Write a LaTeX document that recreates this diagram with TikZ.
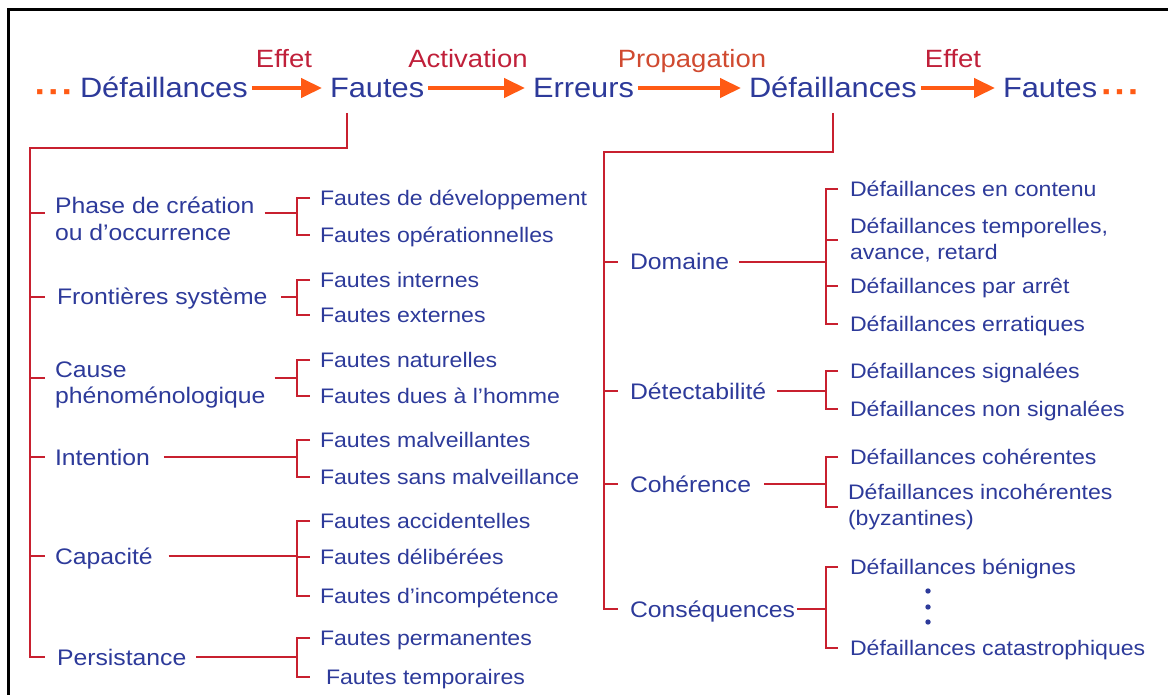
\documentclass[tikz,border=0pt]{standalone}
\usepackage{fontspec}
\setmainfont{Liberation Sans}[FakeStretch=1.1]
\usetikzlibrary{arrows.meta,calc}
\definecolor{txtblue}{HTML}{2D3A9A}
\definecolor{brred}{HTML}{C8202F}
\definecolor{lblred}{HTML}{C0203A}
\definecolor{lblorange}{HTML}{D04A30}
\definecolor{arrorange}{HTML}{FF5A14}
\begin{document}
\begin{tikzpicture}[x=1pt,y=-1pt,
  every node/.style={inner sep=0pt,outer sep=0pt},
  top/.style={anchor=west,text=txtblue,font=\fontsize{28}{32}\selectfont,text height=20pt,text depth=0pt},
  lbl/.style={anchor=base,font=\fontsize{25}{28}\selectfont},
  dotrow/.style={text=arrorange,font=\bfseries\fontsize{34}{36}\selectfont,text height=20pt,text depth=0pt},
  cat/.style={anchor=west,text=txtblue,font=\fontsize{22.5}{26}\selectfont,text height=16pt,text depth=0pt},
  cattwo/.style={anchor=west,text=txtblue,align=left,font=\fontsize{22.5}{26.5}\selectfont},
  leaf/.style={anchor=west,text=txtblue,font=\fontsize{21}{25}\selectfont,text height=15pt,text depth=0pt},
  leaftwo/.style={anchor=west,text=txtblue,align=left,font=\fontsize{21}{25.5}\selectfont},
  br/.style={draw=brred,line width=1.9pt},
  arr/.style={draw=arrorange,line width=4.2pt,-{Triangle[length=21pt,width=19pt]},shorten <=4pt,shorten >=8pt},
]
\useasboundingbox (0,0) rectangle (1168,695);

% frame
\draw[line width=3pt] (1180,10) -- (8,10) -- (8,705);

% chain of threats
\node[dotrow,anchor=east] (dl) at (74,94) {·\kern1pt·\kern1pt·};
\node[top] (d0) at (80,88) {Défaillances};
\node[top] (f1) at (330,88) {Fautes};
\node[top] (er) at (533,88) {Erreurs};
\node[top] (d2) at (749,88) {Défaillances};
\node[top] (f2) at (1003,88) {Fautes};
\node[dotrow,anchor=west] (dr) at (1101,94) {·\kern1pt·\kern1pt·};

\draw[arr] (d0.east) -- (f1.west);
\draw[arr] (f1.east) -- (er.west);
\draw[arr] (er.east) -- (d2.west);
\draw[arr] (d2.east) -- (f2.west);

\node[lbl,text=lblred] (l1) at (284,68) {Effet};
\node[lbl,text=lblred] (l2) at (468,68) {Activation};
\node[lbl,text=lblorange] (l3) at (692,68) {Propagation};
\node[lbl,text=lblred] (l4) at (953,68) {Effet};

% ---------- fault classes ----------
\coordinate (tl) at (30,148);
\coordinate (bl) at (297,0);
\coordinate (jphase) at (0,213);
\coordinate (jcause) at (0,378);

\node[cattwo] (phase) at (55,219) {Phase de création\\ou d’occurrence};
\node[cat] (front) at (57,297) {Frontières système};
\node[cattwo] (cause) at (55,385) {Cause\\phénoménologique};
\node[cat] (intent) at (55,457) {Intention};
\node[cat] (capac) at (55,556) {Capacité};
\node[cat] (persist) at (57,657) {Persistance};

\node[leaf] (fdev) at (320,198) {Fautes de développement};
\node[leaf] (fop) at (320,235) {Fautes opérationnelles};
\node[leaf] (fint) at (320,280) {Fautes internes};
\node[leaf] (fext) at (320,315) {Fautes externes};
\node[leaf] (fnat) at (320,360) {Fautes naturelles};
\node[leaf] (fhom) at (320,396) {Fautes dues à l’homme};
\node[leaf] (fmal) at (320,440) {Fautes malveillantes};
\node[leaf] (fsans) at (320,477) {Fautes sans malveillance};
\node[leaf] (facc) at (320,521) {Fautes accidentelles};
\node[leaf] (fdel) at (320,557) {Fautes délibérées};
\node[leaf] (finc) at (320,596) {Fautes d’incompétence};
\node[leaf] (fperm) at (320,638) {Fautes permanentes};
\node[leaf] (ftemp) at (326,677) {Fautes temporaires};

% trunk
\draw[br] ([xshift=17pt,yshift=-15pt]f1.south west) |- (tl) -- (tl |- persist.west) -- ([xshift=-12pt]persist.west);
\draw[br] (tl |- jphase) -- ++(15,0);
\draw[br] (tl |- front.west) -- ++(15,0);
\draw[br] (tl |- jcause) -- ++(15,0);
\draw[br] (tl |- intent.west) -- ++(15,0);
\draw[br] (tl |- capac.west) -- ++(15,0);

% category to bracket
\draw[br] ($(phase.east |- jphase)+(10,0)$) -- (bl |- jphase);
\draw[br] ([xshift=14pt]front.east) -- (bl |- front.west);
\draw[br] ($(cause.east |- jcause)+(9,0)$) -- (bl |- jcause);
\draw[br] ([xshift=14pt]intent.east) -- (bl |- intent.west);
\draw[br] ([xshift=16pt]capac.east) -- (bl |- capac.west);
\draw[br] ([xshift=10pt]persist.east) -- (bl |- persist.west);

% brackets
\draw[br] ($(bl |- fdev.west)+(13,0)$) -- (bl |- fdev.west) -- (bl |- fop.west) -- ++(13,0);
\draw[br] ($(bl |- fint.west)+(13,0)$) -- (bl |- fint.west) -- (bl |- fext.west) -- ++(13,0);
\draw[br] ($(bl |- fnat.west)+(13,0)$) -- (bl |- fnat.west) -- (bl |- fhom.west) -- ++(13,0);
\draw[br] ($(bl |- fmal.west)+(13,0)$) -- (bl |- fmal.west) -- (bl |- fsans.west) -- ++(13,0);
\draw[br] ($(bl |- facc.west)+(13,0)$) -- (bl |- facc.west) -- (bl |- finc.west) -- ++(13,0);
\draw[br] (bl |- fdel.west) -- ++(13,0);
\draw[br] ($(bl |- fperm.west)+(13,0)$) -- (bl |- fperm.west) -- (bl |- ftemp.west) -- ++(13,0);

% ---------- failure classes ----------
\coordinate (tr) at (604,152);
\coordinate (brr) at (826,0);

\node[cat] (dom) at (630,262) {Domaine};
\node[cat] (det) at (630,391) {Détectabilité};
\node[cat] (coh) at (630,484) {Cohérence};
\node[cat] (cons) at (630,609) {Conséquences};

\node[leaf] (dcont) at (850,189) {Défaillances en contenu};
\node[leaftwo] (dtemp) at (850,240) {Défaillances temporelles,\\avance, retard};
\node[leaf] (darr) at (850,286) {Défaillances par arrêt};
\node[leaf] (derr) at (850,324) {Défaillances erratiques};
\node[leaf] (dsig) at (850,371) {Défaillances signalées};
\node[leaf] (dnsig) at (850,409) {Défaillances non signalées};
\node[leaf] (dcoh) at (850,457) {Défaillances cohérentes};
\node[leaftwo] (dinc) at (848,507) {Défaillances incohérentes\\(byzantines)};
\node[leaf] (dben) at (850,567) {Défaillances bénignes};
\node[leaf] (dcat) at (850,648) {Défaillances catastrophiques};

% vertical ellipsis between benign and catastrophic
\fill[txtblue] (928,591) circle[radius=2.7pt];
\fill[txtblue] (928,607) circle[radius=2.7pt];
\fill[txtblue] (928,622) circle[radius=2.7pt];

% trunk
\draw[br] ([yshift=-15pt]d2.south) |- (tr) -- (tr |- cons.west) -- ([xshift=-12pt]cons.west);
\draw[br] (tr |- dom.west) -- ++(14,0);
\draw[br] (tr |- det.west) -- ++(14,0);
\draw[br] (tr |- coh.west) -- ++(14,0);

% category to bracket
\draw[br] ([xshift=10pt]dom.east) -- (brr |- dom.west);
\draw[br] ([xshift=11pt]det.east) -- (brr |- det.west);
\draw[br] ([xshift=13pt]coh.east) -- (brr |- coh.west);
\draw[br] ([xshift=2pt]cons.east) -- (brr |- cons.west);

% brackets
\draw[br] ($(brr |- dcont.west)+(12,0)$) -- (brr |- dcont.west) -- (brr |- derr.west) -- ++(12,0);
\draw[br] (brr |- dtemp.west) -- ++(12,0);
\draw[br] (brr |- darr.west) -- ++(12,0);
\draw[br] ($(brr |- dsig.west)+(12,0)$) -- (brr |- dsig.west) -- (brr |- dnsig.west) -- ++(12,0);
\draw[br] ($(brr |- dcoh.west)+(12,0)$) -- (brr |- dcoh.west) -- (brr |- dinc.west) -- ++(12,0);
\draw[br] ($(brr |- dben.west)+(12,0)$) -- (brr |- dben.west) -- (brr |- dcat.west) -- ++(12,0);
\end{tikzpicture}
\end{document}
